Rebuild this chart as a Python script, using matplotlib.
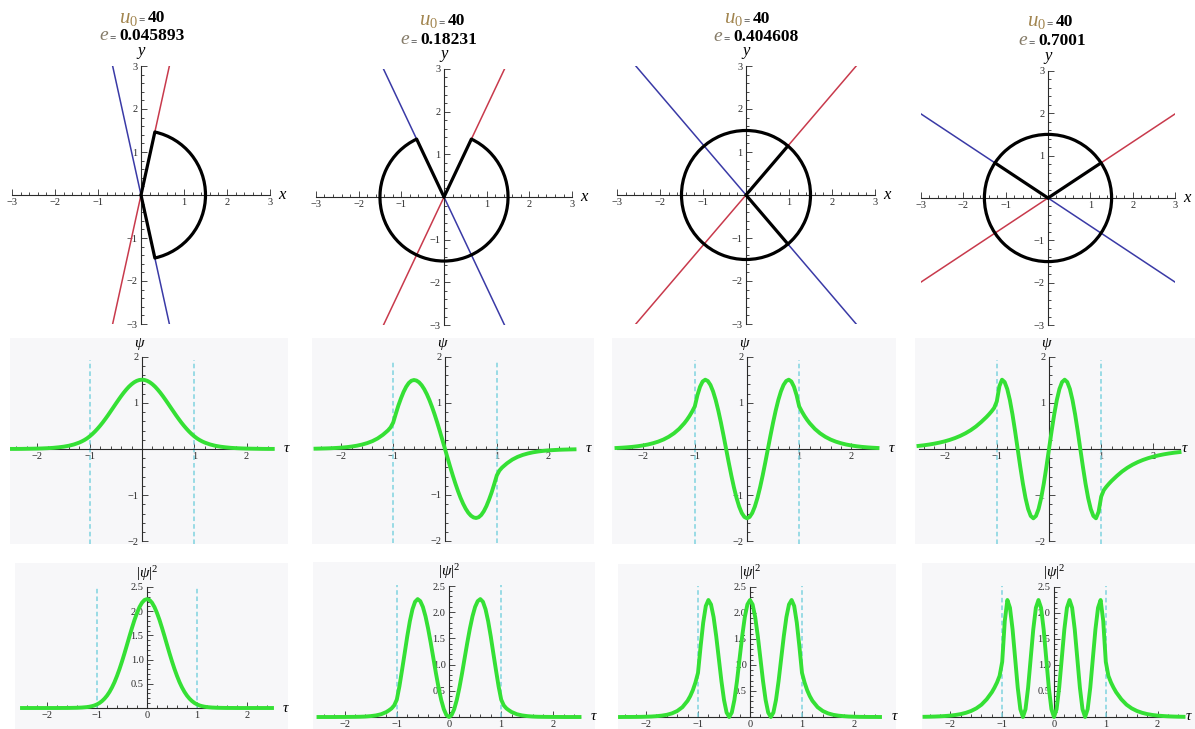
import numpy as np
import matplotlib
matplotlib.use("Agg")
import matplotlib.pyplot as plt
from matplotlib.patches import Arc

plt.rcParams['font.family'] = ['Liberation Serif', 'DejaVu Serif']
plt.rcParams['mathtext.fontset'] = 'custom'
plt.rcParams['mathtext.rm'] = 'Liberation Serif'
plt.rcParams['mathtext.it'] = 'Liberation Serif:italic'
plt.rcParams['mathtext.bf'] = 'Liberation Serif:bold'

# ---- data ----
U0 = 40
E_VALUES = ['0.045893', '0.18231', '0.404608', '0.7001']

# top row: angle (deg) of the red line, circle radius, arc span and the two black spokes
RADIUS = 1.5
LINE_ANGLES = [77.6, 64.7, 49.5, 33.5]
ARC_FROM = [-77.6, 115.3, 0.0, 0.0]
ARC_TO = [77.6, 424.7, 360.0, 360.0]
SPOKE_ANGLES = [(77.6, -77.6), (64.7, 115.3), (49.5, -49.5), (33.5, 146.5)]

WELL_EDGES = [-1.0, 1.0]

TAU = [-2.5, -2.4, -2.3, -2.2, -2.1, -2.0, -1.9, -1.8, -1.7, -1.6, -1.5, -1.4, -1.3,
       -1.2, -1.15, -1.1, -1.05, -1.0, -0.95, -0.9, -0.85, -0.8, -0.75, -0.7, -0.65,
       -0.6, -0.55, -0.5, -0.45, -0.4, -0.35, -0.3, -0.25, -0.2, -0.15, -0.1, -0.05,
       0.0,
       0.05, 0.1, 0.15, 0.2, 0.25, 0.3, 0.35, 0.4, 0.45, 0.5, 0.55, 0.6,
       0.65, 0.7, 0.75, 0.8, 0.85, 0.9, 0.95, 1.0, 1.05, 1.1, 1.15, 1.2,
       1.3, 1.4, 1.5, 1.6, 1.7, 1.8, 1.9, 2.0, 2.1, 2.2, 2.3, 2.4, 2.5]

PSI_1 = [0.002, 0.002, 0.003, 0.005, 0.007, 0.009, 0.013, 0.018, 0.025, 0.036, 0.050, 0.070, 0.099,
         0.139, 0.165, 0.195, 0.231, 0.274, 0.323, 0.378, 0.439, 0.505, 0.576, 0.652, 0.731,
         0.814, 0.897, 0.981, 1.063, 1.143, 1.218, 1.287, 1.349, 1.401, 1.444, 1.475, 1.494,
         1.500,
         1.494, 1.475, 1.444, 1.401, 1.349, 1.287, 1.218, 1.143, 1.063, 0.981, 0.897, 0.814,
         0.731, 0.652, 0.576, 0.505, 0.439, 0.378, 0.323, 0.274, 0.231, 0.195, 0.165, 0.139,
         0.099, 0.070, 0.050, 0.036, 0.025, 0.018, 0.013, 0.009, 0.007, 0.005, 0.003, 0.002, 0.002]

PSI_2 = [0.007, 0.010, 0.013, 0.017, 0.023, 0.030, 0.040, 0.054, 0.072, 0.097, 0.129, 0.172, 0.230,
         0.308, 0.356, 0.405, 0.470, 0.575, 0.765, 0.945, 1.101, 1.240, 1.352, 1.434, 1.483,
         1.500, 1.487, 1.449, 1.386, 1.299, 1.190, 1.061, 0.913, 0.750, 0.574, 0.388, 0.196,
         0.0,
         -0.196, -0.388, -0.574, -0.750, -0.913, -1.061, -1.190, -1.299, -1.386, -1.449, -1.487, -1.500,
         -1.483, -1.434, -1.352, -1.240, -1.101, -0.945, -0.765, -0.575, -0.470, -0.405, -0.356, -0.308,
         -0.230, -0.172, -0.129, -0.097, -0.072, -0.054, -0.040, -0.030, -0.023, -0.017, -0.013, -0.010, -0.007]

PSI_3 = [0.022, 0.028, 0.036, 0.046, 0.059, 0.076, 0.097, 0.125, 0.160, 0.205, 0.264, 0.339, 0.435,
         0.559, 0.633, 0.717, 0.813, 0.921, 1.164, 1.347, 1.461, 1.500, 1.471, 1.386, 1.247,
         1.061, 0.833, 0.574, 0.293, 0.0, -0.293, -0.574, -0.833, -1.061, -1.247, -1.386, -1.471,
         -1.500,
         -1.471, -1.386, -1.247, -1.061, -0.833, -0.574, -0.293, 0.0, 0.293, 0.574, 0.833, 1.061,
         1.247, 1.386, 1.471, 1.500, 1.461, 1.347, 1.164, 0.921, 0.813, 0.717, 0.633, 0.559,
         0.435, 0.339, 0.264, 0.205, 0.160, 0.125, 0.097, 0.076, 0.059, 0.046, 0.036, 0.028, 0.022]

PSI_4 = [0.067, 0.080, 0.096, 0.115, 0.138, 0.165, 0.198, 0.237, 0.284, 0.340, 0.407, 0.487, 0.583,
         0.690, 0.750, 0.815, 0.890, 1.030, 1.360, 1.500, 1.449, 1.299, 1.061, 0.750, 0.388,
         0.0, -0.388, -0.750, -1.061, -1.299, -1.449, -1.500, -1.449, -1.299, -1.061, -0.750, -0.388,
         0.0,
         0.388, 0.750, 1.061, 1.299, 1.449, 1.500, 1.449, 1.299, 1.061, 0.750, 0.388, 0.0,
         -0.388, -0.750, -1.061, -1.299, -1.449, -1.500, -1.360, -1.030, -0.890, -0.815, -0.750, -0.690,
         -0.583, -0.487, -0.407, -0.340, -0.284, -0.237, -0.198, -0.165, -0.138, -0.115, -0.096, -0.080, -0.067]

PSI1_SQ = [0.0, 0.0, 0.0, 0.0, 0.0, 0.0, 0.0, 0.0, 0.001, 0.001, 0.003, 0.005, 0.010,
           0.019, 0.027, 0.038, 0.053, 0.075, 0.104, 0.143, 0.193, 0.255, 0.332, 0.425, 0.534,
           0.663, 0.805, 0.962, 1.130, 1.306, 1.484, 1.656, 1.820, 1.963, 2.085, 2.176, 2.232,
           2.250,
           2.232, 2.176, 2.085, 1.963, 1.820, 1.656, 1.484, 1.306, 1.130, 0.962, 0.805, 0.663,
           0.534, 0.425, 0.332, 0.255, 0.193, 0.143, 0.104, 0.075, 0.053, 0.038, 0.027, 0.019,
           0.010, 0.005, 0.003, 0.001, 0.001, 0.0, 0.0, 0.0, 0.0, 0.0, 0.0, 0.0, 0.0]

PSI2_SQ = [0.0, 0.0, 0.0, 0.0, 0.001, 0.001, 0.002, 0.003, 0.005, 0.009, 0.017, 0.030, 0.053,
           0.095, 0.127, 0.164, 0.221, 0.331, 0.585, 0.893, 1.212, 1.538, 1.828, 2.056, 2.199,
           2.250, 2.211, 2.100, 1.921, 1.687, 1.416, 1.126, 0.834, 0.563, 0.329, 0.151, 0.038,
           0.0,
           0.038, 0.151, 0.329, 0.563, 0.834, 1.126, 1.416, 1.687, 1.921, 2.100, 2.211, 2.250,
           2.199, 2.056, 1.828, 1.538, 1.212, 0.893, 0.585, 0.331, 0.221, 0.164, 0.127, 0.095,
           0.053, 0.030, 0.017, 0.009, 0.005, 0.003, 0.002, 0.001, 0.001, 0.0, 0.0, 0.0, 0.0]

PSI3_SQ = [0.0, 0.001, 0.001, 0.002, 0.003, 0.006, 0.009, 0.016, 0.026, 0.042, 0.070, 0.115, 0.189,
           0.312, 0.401, 0.514, 0.661, 0.848, 1.355, 1.814, 2.134, 2.250, 2.164, 1.921, 1.555,
           1.126, 0.694, 0.329, 0.086, 0.0, 0.086, 0.329, 0.694, 1.126, 1.555, 1.921, 2.164,
           2.250,
           2.164, 1.921, 1.555, 1.126, 0.694, 0.329, 0.086, 0.0, 0.086, 0.329, 0.694, 1.126,
           1.555, 1.921, 2.164, 2.250, 2.134, 1.814, 1.355, 0.848, 0.661, 0.514, 0.401, 0.312,
           0.189, 0.115, 0.070, 0.042, 0.026, 0.016, 0.009, 0.006, 0.003, 0.002, 0.001, 0.001, 0.0]

PSI4_SQ = [0.004, 0.006, 0.009, 0.013, 0.019, 0.027, 0.039, 0.056, 0.081, 0.116, 0.166, 0.237, 0.340,
           0.476, 0.563, 0.664, 0.792, 1.061, 1.850, 2.250, 2.100, 1.687, 1.126, 0.563, 0.151,
           0.0, 0.151, 0.563, 1.126, 1.687, 2.100, 2.250, 2.100, 1.687, 1.126, 0.563, 0.151,
           0.0,
           0.151, 0.563, 1.126, 1.687, 2.100, 2.250, 2.100, 1.687, 1.126, 0.563, 0.151, 0.0,
           0.151, 0.563, 1.126, 1.687, 2.100, 2.250, 1.850, 1.061, 0.792, 0.664, 0.563, 0.476,
           0.340, 0.237, 0.166, 0.116, 0.081, 0.056, 0.039, 0.027, 0.019, 0.013, 0.009, 0.006, 0.004]

PSI = [PSI_1, PSI_2, PSI_3, PSI_4]
PSI_SQ = [PSI1_SQ, PSI2_SQ, PSI3_SQ, PSI4_SQ]

# ---- styles ----
RED = '#c83a4c'
BLUE = '#3a3aa6'
GREEN = '#35e035'
CYAN = '#7fd3e0'
PANEL_BG = '#f7f7f9'
AXIS_COL = '#2a2a2a'
U_COL = '#a2854f'
E_COL = '#857b68'

W, H = 1195, 729
fig = plt.figure(figsize=(W / 100, H / 100), dpi=100)
fig.patch.set_facecolor('white')


def make_panel(box, origin, scale, face, xb, yb):
    # box/origin in pixels of the picture, scale = pixels per unit
    bx0, by0, bx1, by1 = box
    ox, oy = origin
    sx, sy = scale
    ax = fig.add_axes([bx0 / W, 1 - by1 / H, (bx1 - bx0) / W, (by1 - by0) / H])
    ax.set_xlim((bx0 - ox) / sx, (bx1 - ox) / sx)
    ax.set_ylim((oy - by1) / sy, (oy - by0) / sy)
    ax.set_facecolor(face)
    for s in ('top', 'right'):
        ax.spines[s].set_visible(False)
    for s in ('left', 'bottom'):
        ax.spines[s].set_position(('data', 0))
        ax.spines[s].set_linewidth(0.8)
        ax.spines[s].set_color(AXIS_COL)
    ax.spines['bottom'].set_bounds(*xb)
    ax.spines['left'].set_bounds(*yb)
    ax.tick_params(which='both', direction='in', width=0.6, colors=AXIS_COL,
                   labelsize=7.5, pad=2.5)
    ax.tick_params(which='major', length=4)
    ax.tick_params(which='minor', length=2.2)
    return ax


def minor_ticks(lo, hi, step, major_step):
    vals = np.round(np.arange(lo, hi + step / 2, step), 2)
    return [v for v in vals if abs(v / major_step - round(v / major_step)) > 1e-6]


def ftext(px, py, s, **kw):
    fig.text(px / W, 1 - py / H, s, **kw)


# ---- top row: phase pictures ----
TOP_ORIGIN = [(141, 195), (444, 197), (746, 195), (1048, 198)]
TOP_SCALE = [43.0, 42.7, 43.0, 42.4]

for i in range(4):
    ox, oy = TOP_ORIGIN[i]
    s = TOP_SCALE[i]
    ax = make_panel((ox - 3 * s, oy - 3 * s, ox + 3 * s, oy + 3 * s), (ox, oy), (s, s),
                    'white', (-3, 3), (-3, 3))
    ax.set_xticks([-3, -2, -1, 1, 2, 3])
    ax.set_yticks([-3, -2, -1, 1, 2, 3])
    ax.set_xticks(minor_ticks(-3, 3, 0.2, 1), minor=True)
    ax.set_yticks(minor_ticks(-3, 3, 0.2, 1), minor=True)
    k = np.tan(np.radians(LINE_ANGLES[i]))
    ax.axline((0, 0), slope=k, color=RED, lw=1.1, zorder=2)
    ax.axline((0, 0), slope=-k, color=BLUE, lw=1.1, zorder=2)
    ax.add_patch(Arc((0, 0), 2 * RADIUS, 2 * RADIUS, theta1=ARC_FROM[i], theta2=ARC_TO[i],
                     edgecolor='black', lw=2.3, zorder=4))
    for a in SPOKE_ANGLES[i]:
        ax.plot([0, RADIUS * np.cos(np.radians(a))], [0, RADIUS * np.sin(np.radians(a))],
                color='black', lw=2.3, zorder=4, solid_capstyle='round')
    ax.text(3.3, 0, r'$x$', fontsize=12, ha='center', va='center', clip_on=False)
    ax.text(0, 3.3, r'$y$', fontsize=12, ha='center', va='center', clip_on=False)

# titles
EQ1_X = [142, 442, 747, 1050]
EQ2_X = [113, 414, 727, 1032]
BASE1 = [22.5, 25, 23, 26]
BASE2 = [40.5, 44, 41, 45]
for i in range(4):
    ftext(EQ1_X[i] - 4, BASE1[i], r'$u_0$', fontsize=15, color=U_COL, ha='right', va='baseline')
    ftext(EQ1_X[i], BASE1[i], '=', fontsize=8, ha='center', va='baseline')
    ftext(EQ1_X[i] + 6, BASE1[i], str(U0), fontsize=12.5, fontweight='bold', ha='left', va='baseline')
    ftext(EQ2_X[i] - 4, BASE2[i], r'$e$', fontsize=14, color=E_COL, ha='right', va='baseline')
    ftext(EQ2_X[i], BASE2[i], '=', fontsize=8, ha='center', va='baseline')
    ftext(EQ2_X[i] + 6, BASE2[i], E_VALUES[i], fontsize=12.5, fontweight='bold', ha='left', va='baseline')

TAU_LABEL_X = [2.78, 2.78, 2.78, 2.6]

# ---- middle row: psi ----
MID_BOX = [(10, 338, 288, 544), (312, 338, 594, 544), (612, 338, 896, 544), (915, 338, 1195, 544)]
MID_ORIGIN = [(142, 449), (445, 449), (747, 449), (1049, 449)]
MID_SCALE = [(52.3, 46.2), (51.8, 46.0), (52.2, 46.2), (52.2, 46.2)]

for i in range(4):
    ax = make_panel(MID_BOX[i], MID_ORIGIN[i], MID_SCALE[i], PANEL_BG, (-2.5, 2.5), (-2, 2))
    ax.set_xticks([-2, -1, 1, 2])
    ax.set_yticks([-2, -1, 1, 2])
    ax.set_xticks(minor_ticks(-2.4, 2.4, 0.2, 1), minor=True)
    ax.set_yticks(minor_ticks(-2, 2, 0.2, 1), minor=True)
    ax.vlines(WELL_EDGES, -2.05, 1.93, colors=CYAN, linestyles=(0, (3, 2)), lw=1.1, zorder=2)
    ax.plot(TAU, PSI[i], color=GREEN, lw=2.8, zorder=3, solid_joinstyle='round')
    ax.text(TAU_LABEL_X[i], 0, r'$\tau$', fontsize=11, ha='center', va='center', clip_on=False)
    ax.text(-0.05, 2.28, r'$\psi$', fontsize=11, ha='center', va='center', clip_on=False)

# ---- bottom row: |psi|^2 ----
BOT_BOX = [(15, 563, 288, 729), (313, 562, 595, 729), (618, 564, 896, 729), (922, 563, 1195, 729)]
BOT_ORIGIN = [(147, 708), (449, 717), (750, 717), (1054, 717)]
BOT_SCALE = [(50.0, 48.4), (52.2, 52.4), (52.0, 52.0), (51.8, 52.0)]

for i in range(4):
    ax = make_panel(BOT_BOX[i], BOT_ORIGIN[i], BOT_SCALE[i], PANEL_BG, (-2.5, 2.5), (0, 2.5))
    ax.set_xticks([-2, -1, 0, 1, 2])
    ax.set_yticks([0.5, 1.0, 1.5, 2.0, 2.5])
    ax.set_xticks(minor_ticks(-2.4, 2.4, 0.2, 1), minor=True)
    ax.set_yticks(minor_ticks(0.1, 2.5, 0.1, 0.5), minor=True)
    ax.vlines(WELL_EDGES, 0, 2.52, colors=CYAN, linestyles=(0, (3, 2)), lw=1.1, zorder=2)
    ax.plot(TAU, PSI_SQ[i], color=GREEN, lw=2.8, zorder=3, solid_joinstyle='round')
    ax.text(TAU_LABEL_X[i], 0, r'$\tau$', fontsize=11, ha='center', va='center', clip_on=False)
    ax.text(0, 2.78, r'$|\psi|^2$', fontsize=11, ha='center', va='center', clip_on=False)

fig.savefig('out.png', dpi=100, facecolor='white')
